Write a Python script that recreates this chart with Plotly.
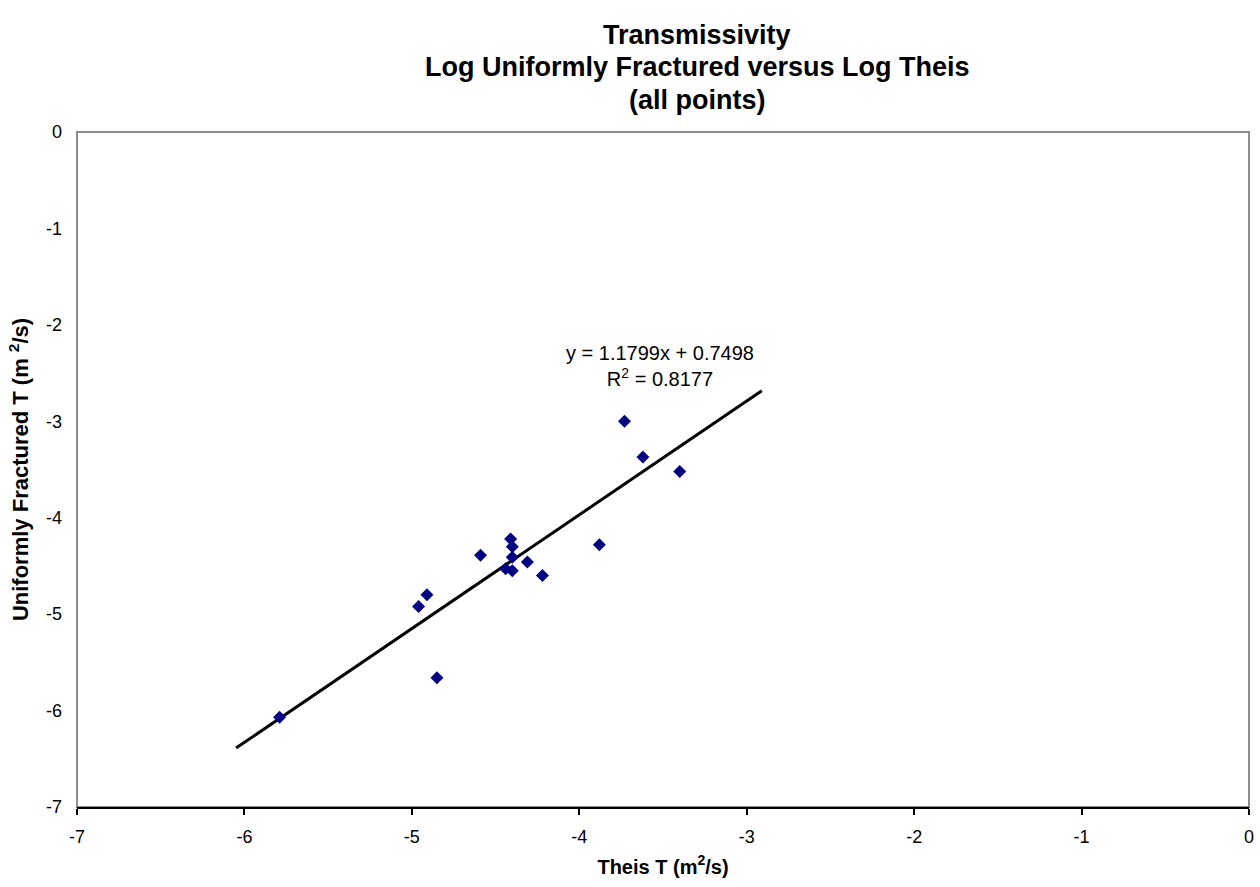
import plotly.graph_objects as go

# Data (log10 transmissivity)
theis_log_t = [-3.73, -3.62, -3.40, -3.88, -4.41, -4.40, -4.59, -4.40,
               -4.31, -4.44, -4.40, -4.22, -4.91, -4.96, -4.85, -5.79]
fractured_log_t = [-3.00, -3.37, -3.52, -4.28, -4.22, -4.30, -4.39, -4.41,
                   -4.46, -4.53, -4.55, -4.60, -4.80, -4.92, -5.66, -6.07]

# Linear trendline (as reported on the chart)
slope = 1.1799
intercept = 0.7498
r_squared = 0.8177
trend_x = [-6.05, -2.91]
trend_y = [slope * v + intercept for v in trend_x]

tick_vals = [-7, -6, -5, -4, -3, -2, -1, 0]
tick_text = ["-7", "-6", "-5", "-4", "-3", "-2", "-1", "0"]

FONT = "Liberation Sans, Arial, sans-serif"

fig = go.Figure()
fig.add_trace(go.Scatter(
    x=trend_x, y=trend_y, mode="lines",
    line=dict(color="black", width=3), showlegend=False, hoverinfo="skip"))
fig.add_trace(go.Scatter(
    x=theis_log_t, y=fractured_log_t, mode="markers",
    marker=dict(symbol="diamond", size=10, color="#000080"),
    showlegend=False))

fig.add_shape(type="rect", xref="x domain", yref="y domain",
              x0=0, x1=1, y0=0, y1=1, line=dict(color="#8c8c8c", width=2),
              layer="below")

titles = ["Transmissivity", "Log Uniformly Fractured versus Log Theis", "(all points)"]
title_y_px = [35, 67, 100]
for t, ypx in zip(titles, title_y_px):
    fig.add_annotation(text=f"<b>{t}</b>", xref="paper", yref="paper",
                       x=(700 - 77) / (1254 - 77), y=(807 - ypx) / (807 - 132),
                       xanchor="center", yanchor="middle", showarrow=False,
                       font=dict(family=FONT, size=27, color="black"))

fig.add_annotation(
    text=f"y = {slope}x + {intercept}<br>R<sup>2</sup> = {r_squared}",
    x=-3.52, y=-2.43, xref="x", yref="y", showarrow=False,
    xanchor="center", yanchor="middle",
    font=dict(family=FONT, size=20, color="black"))

fig.update_layout(
    width=1260, height=887,
    margin=dict(l=77, r=6, t=132, b=80),
    paper_bgcolor="white", plot_bgcolor="white",
    font=dict(family=FONT, size=18, color="black"),
    xaxis=dict(
        range=[-7, 0], tickvals=tick_vals, ticktext=tick_text,
        showgrid=False, zeroline=False,
        showline=True, linecolor="black", linewidth=2,
        ticks="outside", ticklen=6, tickwidth=2, tickcolor="black",
        ticklabelstandoff=6,
        title=dict(text="<b>Theis T (m<sup>2</sup>/s)</b>", standoff=14,
                   font=dict(family=FONT, size=20))),
    yaxis=dict(
        range=[-7, 0], tickvals=tick_vals, ticktext=tick_text,
        showgrid=False, zeroline=False,
        showline=False, ticks="", ticklabelstandoff=14,
        title=dict(text="<b>Uniformly Fractured T (m <sup>2</sup>/s)</b>", standoff=11,
                   font=dict(family=FONT, size=22))),
)

fig.write_html("out.html")
